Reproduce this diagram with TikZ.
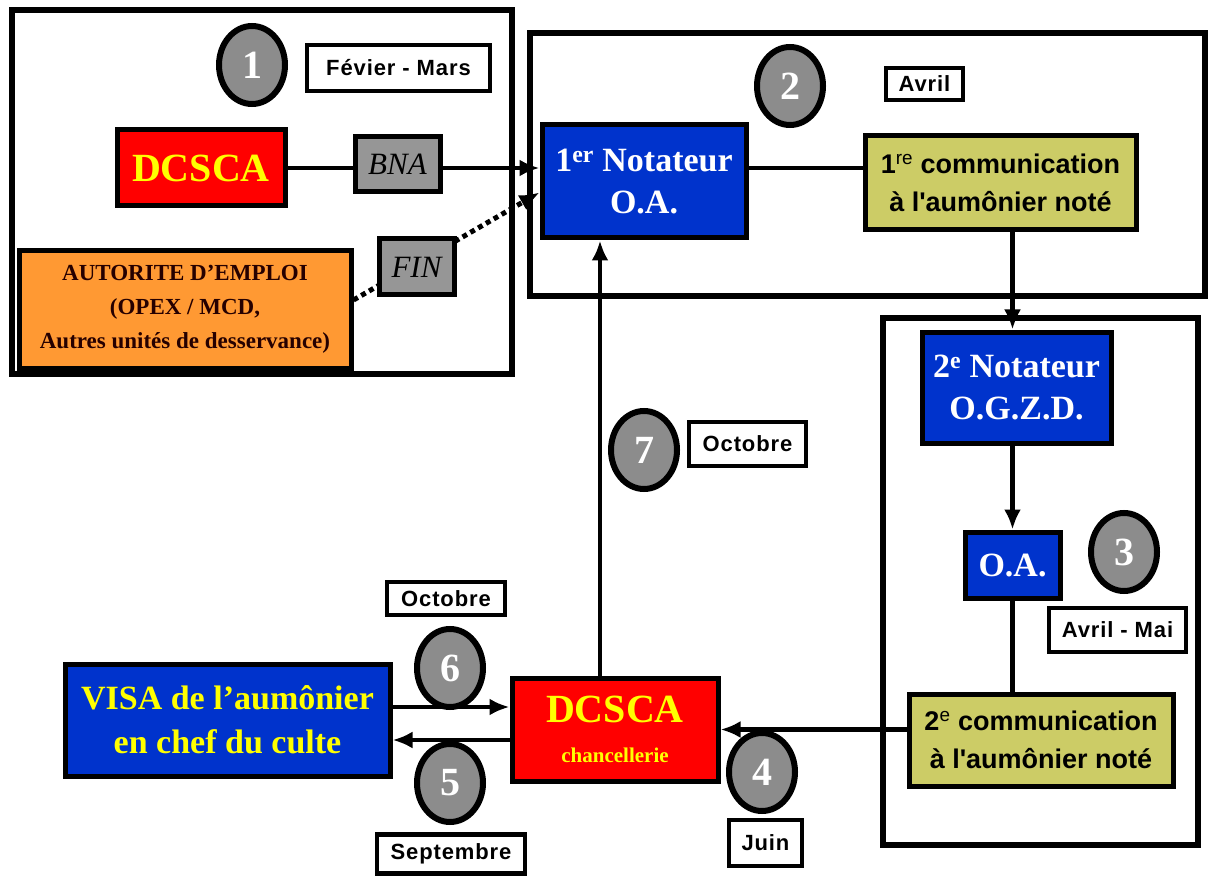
\documentclass[tikz,border=0pt]{standalone}
\usepackage{fontspec}
\setmainfont{Liberation Serif}
\newfontfamily\arialfont{Liberation Sans}
\newfontfamily\moisfont[LetterSpace=4]{Liberation Sans}
\usetikzlibrary{shapes,arrows.meta,calc}

\definecolor{boxred}{RGB}{255,0,0}
\definecolor{boxyellow}{RGB}{255,255,0}
\definecolor{boxblue}{RGB}{0,51,204}
\definecolor{boxorange}{RGB}{255,153,51}
\definecolor{boxolive}{RGB}{204,204,102}
\definecolor{boxgrey}{RGB}{150,150,150}
\definecolor{numgrey}{RGB}{140,140,140}

\newcommand\fsz[2]{\fontsize{#1}{#2}\selectfont}

\begin{document}
\begin{tikzpicture}[x=1pt,y=-1pt,
	frame/.style={draw, line width=5.5pt},
	box/.style={draw, line width=5pt, inner sep=0pt, align=center},
	docbox/.style={box, fill=boxgrey, font=\itshape\fsz{31}{34}},
	stepnum/.style={draw, ellipse, line width=6pt, fill=numgrey, text=white,
		minimum width=66pt, minimum height=78pt, inner sep=0pt, font=\bfseries\fsz{40}{40}},
	mois/.style={draw, line width=4.5pt, fill=white, inner sep=0pt,
		font=\moisfont\bfseries\fsz{22}{24}},
	link/.style={line width=4.5pt, -{Latex[length=20pt,width=17pt]}},
	plain/.style={line width=4.5pt}]
	\useasboundingbox (0,0) rectangle (1210,877);
	
	% frames of the three phases
	\draw[frame] (12,10) rectangle (512,374);
	\draw[frame] (530,33) rectangle (1205,296);
	\draw[frame] (883,318) rectangle (1198,845);
	
	% main boxes
	\node[box, fill=boxred, text=boxyellow, minimum width=168pt, minimum height=76pt,
		font=\bfseries\fsz{40}{44}] (dcsca) at (201,168) {DCSCA};
	\node[box, fill=boxorange, text=black!85!red, minimum width=332pt, minimum height=117pt,
		font=\bfseries\fsz{23}{34}] (autorite) at (185,309.5)
		{AUTORITE D’EMPLOI\\(OPEX / MCD,\\Autres unités de desservance)};
	\node[box, fill=boxblue, text=white, minimum width=204pt, minimum height=113pt,
		font=\bfseries\fsz{34}{42}] (not1) at (644,181.5) {1\textsuperscript{er} Notateur\\O.A.};
	\node[box, fill=boxolive, minimum width=271pt, minimum height=94pt,
		font=\arialfont\bfseries\fsz{27}{38}] (com1) at (1000.5,183)
		{1{\mdseries\textsuperscript{re}} communication\\à l'aumônier noté};
	\node[box, fill=boxblue, text=white, minimum width=189pt, minimum height=111pt,
		font=\bfseries\fsz{34}{42}] (not2) at (1016.5,387.5) {2\textsuperscript{e} Notateur\\O.G.Z.D.};
	\node[box, fill=boxblue, text=white, minimum width=95pt, minimum height=66pt,
		font=\bfseries\fsz{34}{40}] (oa) at (1012.5,565) {O.A.};
	\node[box, fill=boxolive, minimum width=264pt, minimum height=92pt,
		font=\arialfont\bfseries\fsz{27}{38}] (com2) at (1041,740)
		{2{\mdseries\textsuperscript{e}} communication\\à l'aumônier noté};
	\node[box, fill=boxred, text=boxyellow, minimum width=206pt, minimum height=103pt,
		font=\bfseries\fsz{40}{40}] (chanc) at (615,729.5)
		{DCSCA\\{\fsz{21}{24}chancellerie}};
	\node[box, fill=boxblue, text=boxyellow, minimum width=325pt, minimum height=112pt,
		font=\bfseries\fsz{34}{44}] (visa) at (227.5,720)
		{VISA de l’aumônier\\en chef du culte};
	
	% connectors
	\draw[link] (dcsca.east) -- (dcsca.east -| not1.west);
	\draw[link, line width=5pt, dash pattern=on 5pt off 4pt]
		([yshift=9.5pt]autorite.east) -- ([yshift=-11pt]not1.west);
	\draw[plain] (dcsca.east -| not1.east) -- (dcsca.east -| com1.west);
	\draw[link] (oa.north |- com1.south) -- (oa.north |- not2.north);
	\draw[link] (not2.south -| oa.north) -- (oa.north);
	\draw[plain] (oa.south) -- (oa.south |- com2.north);
	\draw[link] (com2.west |- chanc.east) -- (chanc.east);
	\draw[link] ([xshift=-15pt]chanc.north) -- ([xshift=-15pt]chanc.north |- not1.south);
	\draw[link] ([yshift=13pt]visa.east) -- ([yshift=13pt]visa.east -| chanc.west);
	\draw[link] ([yshift=-20pt]visa.east -| chanc.west) -- ([yshift=-20pt]visa.east);
	
	% documents on the first links
	\node[docbox, minimum width=85pt, minimum height=55pt] (bna) at (397.5,164.5) {BNA};
	\node[docbox, minimum width=75pt, minimum height=56pt] (fin) at (416.5,267) {FIN};
	
	% step numbers
	\node[stepnum] (n1) at (252,65) {1};
	\node[stepnum] (n2) at (790,86) {2};
	\node[stepnum] (n3) at (1124,552) {3};
	\node[stepnum] (n4) at (762,772) {4};
	\node[stepnum] (n5) at (450,783) {5};
	\node[stepnum] (n6) at (450,668) {6};
	\node[stepnum] (n7) at (644,450) {7};
	
	% months
	\node[mois, minimum width=183pt, minimum height=46pt] (m1) at (398.5,68) {Févier - Mars};
	\node[mois, minimum width=77pt, minimum height=32pt] (m2) at (924.5,84) {Avril};
	\node[mois, minimum width=137pt, minimum height=44pt] (m3) at (1117.5,630) {Avril - Mai};
	\node[mois, minimum width=73pt, minimum height=46pt] (m4) at (765.5,843) {Juin};
	\node[mois, minimum width=148pt, minimum height=39pt] (m5) at (451,854) {Septembre};
	\node[mois, minimum width=118pt, minimum height=33pt] (m6) at (446,598.5) {Octobre};
	\node[mois, minimum width=117pt, minimum height=44pt] (m7) at (747.5,444) {Octobre};
\end{tikzpicture}
\end{document}
